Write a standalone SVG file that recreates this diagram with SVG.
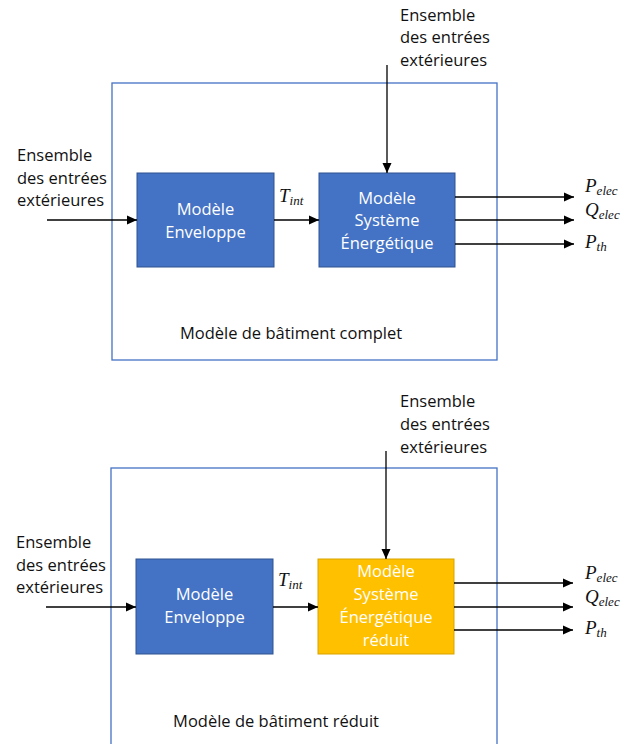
<svg xmlns="http://www.w3.org/2000/svg" width="624" height="744" viewBox="0 0 624 744">
<defs>
<marker id="ah" viewBox="0 0 10 10" refX="10" refY="5" markerWidth="10" markerHeight="10" markerUnits="userSpaceOnUse" orient="auto">
<path d="M0,0.5 L10,5 L0,9.5 z" fill="#000"/>
</marker>
<style>
.t{font-family:"Open Sans","Liberation Sans",sans-serif;font-size:16.5px;fill:#111}
.w{font-family:"Open Sans","Liberation Sans",sans-serif;font-size:16.5px;fill:#fff;text-anchor:middle}
.m{font-family:"Liberation Serif","DejaVu Serif",serif;font-style:italic;font-size:19px;fill:#111}
.s{font-size:13px}
.frame{fill:none;stroke:#4472C4;stroke-width:1.3}
.blue{fill:#4472C4;stroke:#2F528F;stroke-width:1}
.yel{fill:#FFC000;stroke:#D9A300;stroke-width:1}
.c{stroke:#000;stroke-width:1.3;fill:none;marker-end:url(#ah)}
</style>
</defs>

<!-- TOP -->
<g id="frame-complet">
<rect class="frame" x="112" y="83" width="385" height="277"/>
<text class="t" x="291" y="339" text-anchor="middle">Modèle de bâtiment complet</text>
</g>
<g id="env1">
<rect class="blue" x="137" y="173" width="137" height="94"/>
<text class="w" x="205.5" y="215">Modèle</text>
<text class="w" x="205.5" y="238">Enveloppe</text>
</g>
<g id="sys1">
<rect class="blue" x="319" y="173" width="136" height="94"/>
<text class="w" x="387" y="204">Modèle</text>
<text class="w" x="387" y="226">Système</text>
<text class="w" x="387" y="249">Énergétique</text>
</g>
<g id="in-top1">
<text class="t" x="400" y="21">Ensemble</text>
<text class="t" x="400" y="43">des entrées</text>
<text class="t" x="400" y="66">extérieures</text>
</g>
<g id="in-left1">
<text class="t" x="17" y="161">Ensemble</text>
<text class="t" x="17" y="184">des entrées</text>
<text class="t" x="17" y="206">extérieures</text>
</g>
<g id="labels1">
<text class="m" x="279" y="202">T<tspan class="s" dy="3">int</tspan></text>
<text class="m" x="585" y="192">P<tspan class="s" dy="3">elec</tspan></text>
<text class="m" x="585" y="216">Q<tspan class="s" dy="3">elec</tspan></text>
<text class="m" x="585" y="248">P<tspan class="s" dy="3">th</tspan></text>
</g>

<!-- BOTTOM -->
<g id="frame-reduit">
<rect class="frame" x="111" y="468" width="386" height="290"/>
<text class="t" x="276" y="727" text-anchor="middle">Modèle de bâtiment réduit</text>
</g>
<g id="env2">
<rect class="blue" x="136" y="559" width="137" height="95"/>
<text class="w" x="204.5" y="600">Modèle</text>
<text class="w" x="204.5" y="623">Enveloppe</text>
</g>
<g id="sys2">
<rect class="yel" x="318" y="559" width="136" height="95"/>
<text class="w" x="386" y="577">Modèle</text>
<text class="w" x="386" y="600">Système</text>
<text class="w" x="386" y="623">Énergétique</text>
<text class="w" x="386" y="646">réduit</text>
</g>
<g id="in-top2">
<text class="t" x="400" y="407">Ensemble</text>
<text class="t" x="400" y="430">des entrées</text>
<text class="t" x="400" y="453">extérieures</text>
</g>
<g id="in-left2">
<text class="t" x="16" y="548">Ensemble</text>
<text class="t" x="16" y="571">des entrées</text>
<text class="t" x="16" y="593">extérieures</text>
</g>
<g id="labels2">
<text class="m" x="278" y="586">T<tspan class="s" dy="3">int</tspan></text>
<text class="m" x="585" y="579">P<tspan class="s" dy="3">elec</tspan></text>
<text class="m" x="585" y="603">Q<tspan class="s" dy="3">elec</tspan></text>
<text class="m" x="585" y="634">P<tspan class="s" dy="3">th</tspan></text>
</g>

<g id="connectors">
<line class="c" x1="387" y1="65" x2="387" y2="173"/>
<line class="c" x1="47" y1="220" x2="137" y2="220"/>
<line class="c" x1="274" y1="220" x2="319" y2="220"/>
<line class="c" x1="455" y1="197" x2="574" y2="197"/>
<line class="c" x1="455" y1="220" x2="574" y2="220"/>
<line class="c" x1="455" y1="244" x2="574" y2="244"/>

<line class="c" x1="386" y1="451" x2="386" y2="559"/>
<line class="c" x1="46" y1="607" x2="136" y2="607"/>
<line class="c" x1="273" y1="607" x2="318" y2="607"/>
<line class="c" x1="454" y1="583" x2="573" y2="583"/>
<line class="c" x1="454" y1="607" x2="573" y2="607"/>
<line class="c" x1="454" y1="630" x2="573" y2="630"/>
</g>
</svg>
